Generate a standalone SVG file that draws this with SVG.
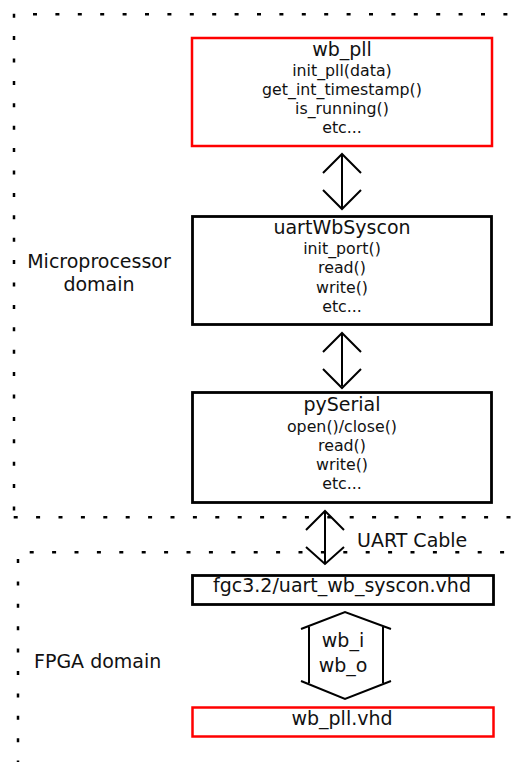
<svg xmlns="http://www.w3.org/2000/svg" width="513" height="762" viewBox="0 0 513 762">
<style>
.dom{fill:none;stroke:#000;stroke-width:2.5;stroke-dasharray:4 18.4}
.red{fill:#fff;stroke:#ff0000;stroke-width:2.5}
.blk{fill:#fff;stroke:#000;stroke-width:2.8}
.arr{fill:none;stroke:#000;stroke-width:2;stroke-linejoin:miter}
text{font-family:"DejaVu Sans","Verdana",sans-serif;fill:#111;text-anchor:middle}
.t{font-size:19px}
.s{font-size:15.8px}
.l{text-anchor:start}
</style>
<g id="domains">
<line class="dom" x1="33" y1="14.3" x2="513" y2="14.3"/>
<line class="dom" x1="14" y1="13.7" x2="14" y2="512"/>
<line class="dom" x1="13.7" y1="517.3" x2="513" y2="517.3"/>
<line class="dom" x1="29.7" y1="552.3" x2="513" y2="552.3"/>
<line class="dom" x1="18" y1="559" x2="18" y2="762"/>
<text class="t" x="99" y="268">Microprocessor</text>
<text class="t" x="99" y="291">domain</text>
<text class="t l" x="34" y="668">FPGA domain</text>
</g>
<g id="wb_pll">
<rect class="red" x="192" y="38" width="300" height="108"/>
<text class="t" x="342" y="56">wb_pll</text>
<text class="s" x="342" y="76">init_pll(data)</text>
<text class="s" x="342" y="95">get_int_timestamp()</text>
<text class="s" x="342" y="114">is_running()</text>
<text class="s" x="342" y="133">etc...</text>
</g>
<g id="uartWbSyscon">
<rect class="blk" x="192.5" y="216.5" width="299" height="108"/>
<text class="t" x="342" y="234">uartWbSyscon</text>
<text class="s" x="342" y="254">init_port()</text>
<text class="s" x="342" y="273">read()</text>
<text class="s" x="342" y="293">write()</text>
<text class="s" x="342" y="312">etc...</text>
</g>
<g id="pySerial">
<rect class="blk" x="192.5" y="392.5" width="299" height="110"/>
<text class="t" x="342" y="411">pySerial</text>
<text class="s" x="342" y="432">open()/close()</text>
<text class="s" x="342" y="451">read()</text>
<text class="s" x="342" y="470">write()</text>
<text class="s" x="342" y="489">etc...</text>
</g>
<g id="uart_wb_syscon_vhd">
<rect class="blk" x="192.5" y="575.5" width="301" height="29"/>
<text class="t" x="342" y="592">fgc3.2/uart_wb_syscon.vhd</text>
</g>
<g id="wb_pll_vhd">
<rect class="red" x="192.5" y="707.5" width="301" height="29"/>
<text class="t" x="342" y="725">wb_pll.vhd</text>
</g>
<g id="connectors">
<path class="arr" d="M342,155 L342,208 M323,173 L342,154 L361,173 M323,190 L342,209 L361,190"/>
<path class="arr" d="M342,334 L342,386 M323,352 L342,333 L361,352 M323,369 L342,388 L361,369"/>
<path class="arr" d="M325,512 L325,563 M306,530 L325,511 L344,530 M306,547 L325,564 L344,547"/>
<text class="t l" x="357" y="547">UART Cable</text>
<path class="arr" d="M301,629 L345,612 L391,629 M309,627 L309,683 M383,627 L383,683 M301,681 L345,699 L391,681"/>
<text class="t" x="343" y="647">wb_i</text>
<text class="t" x="343" y="672">wb_o</text>
</g>
</svg>
